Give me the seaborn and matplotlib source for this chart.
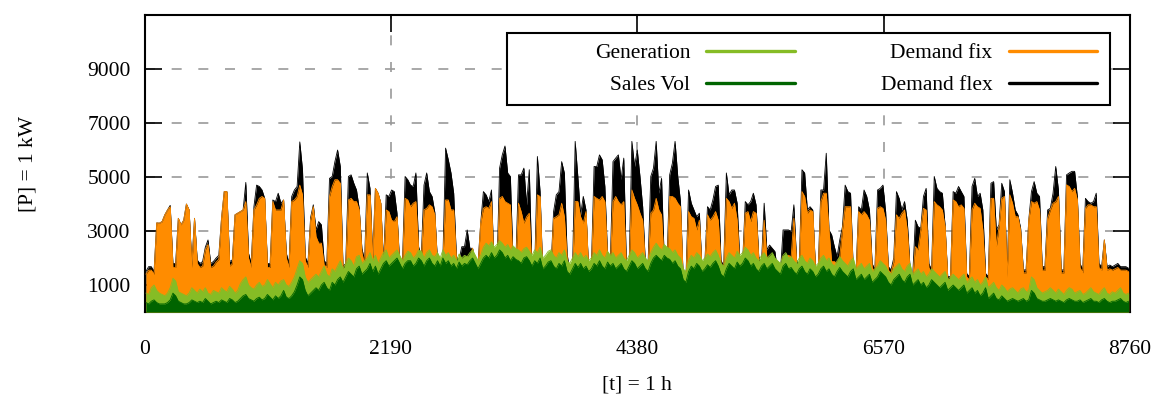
import numpy as np
import pandas as pd
import matplotlib
matplotlib.use("Agg")
import matplotlib.pyplot as plt
from matplotlib.patches import Rectangle
import seaborn as sns

# daily peak values (kW), one value per day of the year
demand_flex = [
    1500, 1680, 1680, 1500, 3300, 3290, 3350,
    3600, 3780, 3950, 1800, 1800, 3470, 3230,
    3400, 4000, 3780, 1800, 3470, 1930, 1800,
    1870, 2400, 2670, 1800, 1870, 2000, 2100,
    3470, 4460, 4460, 1870, 1930, 3600, 3660,
    3720, 3780, 4800, 2180, 1800, 3900, 4700,
    4650, 4520, 4210, 1800, 1800, 4150, 4090,
    4400, 4030, 4150, 2180, 1800, 4280, 4520,
    4650, 6300, 5270, 2050, 1800, 3500, 3970,
    3040, 3350, 3230, 1900, 1800, 4950, 5020,
    5570, 6000, 5390, 1680, 1800, 5020, 5080,
    4770, 4520, 3840, 2360, 1900, 5150, 4580,
    2050, 4580, 4400, 4030, 1800, 4340, 4280,
    4520, 4460, 3660, 1800, 1800, 5020, 4900,
    4700, 4650, 5150, 2420, 2050, 4700, 5150,
    4460, 4280, 3700, 1870, 1930, 2000, 6070,
    5640, 5150, 4400, 2050, 1930, 2420, 2420,
    3040, 2360, 2360, 1800, 1800, 3290, 4460,
    4340, 4090, 4520, 1500, 1500, 5330, 5820,
    6150, 5150, 5020, 1800, 1800, 5080, 5080,
    5330, 3970, 5270, 1560, 1560, 5760, 4460,
    1430, 1430, 1500, 1550, 3720, 4340, 4460,
    5570, 5150, 2180, 1430, 1500, 6320, 5000,
    3600, 4280, 3780, 1560, 1680, 5390, 5390,
    5820, 5640, 4650, 2050, 1800, 5570, 5700,
    5820, 4900, 5700, 1560, 1800, 6320, 5390,
    6000, 5020, 3900, 1800, 1800, 5020, 5330,
    6320, 4400, 4950, 1900, 1800, 5080, 5510,
    6320, 5020, 4090, 1310, 1190, 4520, 4030,
    3780, 3530, 3660, 1560, 1800, 3900, 3780,
    4150, 4650, 4700, 1930, 1680, 5150, 4340,
    4520, 4520, 4030, 1800, 1800, 4090, 3970,
    4090, 4400, 3970, 2050, 1800, 4030, 2300,
    2480, 2360, 2240, 1430, 1430, 3040, 3040,
    3040, 2980, 3970, 1930, 1740, 5270, 5150,
    3780, 3900, 3780, 1680, 1560, 4520, 4520,
    5880, 3040, 2860, 2420, 2050, 2670, 3160,
    4700, 4460, 4400, 1560, 1430, 3900, 3780,
    4520, 4280, 3780, 1800, 1560, 4520, 4580,
    4700, 3720, 1680, 1560, 2000, 4460, 4210,
    3780, 4090, 3400, 1680, 1310, 3400, 3160,
    3100, 4280, 4580, 1800, 1560, 5020, 4580,
    4460, 4400, 3230, 1310, 1310, 4460, 4400,
    4650, 4460, 4280, 1430, 1310, 4650, 4950,
    4280, 4400, 3780, 1430, 1310, 4770, 4830,
    3040, 3230, 4770, 4460, 1430, 4900, 4400,
    3780, 3600, 3100, 1560, 1560, 3400, 4460,
    4830, 4400, 4280, 1680, 1680, 3780, 3840,
    4400, 5390, 4520, 1560, 1560, 5080, 5150,
    5210, 5210, 4280, 1800, 1560, 4210, 4090,
    4030, 4090, 4400, 1800, 1680, 2670, 1680,
    1740, 1680, 1740, 1800, 1680, 1680, 1680,
    1620,
]

demand_fix = [
    1400, 1550, 1550, 1400, 3300, 3290, 3350,
    3600, 3780, 3900, 1650, 1650, 3470, 3230,
    3400, 4000, 3780, 1650, 3470, 1800, 1650,
    1700, 2300, 2500, 1650, 1700, 1850, 1950,
    3470, 4460, 4460, 1700, 1800, 3600, 3660,
    3720, 3780, 4090, 2000, 1650, 3780, 3970,
    4210, 4280, 4210, 1650, 1650, 4090, 3780,
    3780, 3780, 4150, 2000, 1650, 4090, 4150,
    4280, 4700, 4340, 1900, 1650, 3400, 3900,
    2800, 2550, 2550, 1750, 1650, 4280, 4650,
    4900, 4900, 4770, 1550, 1650, 4150, 4210,
    4090, 4090, 3780, 2200, 1750, 4340, 4340,
    1900, 4580, 4400, 4030, 1650, 3780, 3720,
    3400, 3350, 3530, 1650, 1650, 4210, 4150,
    3900, 4030, 4090, 2300, 1900, 3780, 3840,
    3970, 3900, 3600, 1700, 1800, 1850, 4150,
    4150, 3780, 3780, 1900, 1800, 1930, 2000,
    2050, 2000, 2360, 1650, 1650, 3290, 3840,
    3900, 3840, 4090, 1400, 1400, 4210, 4280,
    4090, 4030, 3970, 1650, 1650, 4030, 3720,
    3290, 3530, 3660, 1450, 1450, 4340, 4280,
    1300, 1300, 1350, 1400, 3470, 3530, 3600,
    4030, 3530, 2000, 1300, 1350, 4090, 4090,
    3530, 3290, 3720, 1450, 1550, 4280, 4210,
    4150, 4280, 4090, 1900, 1650, 4090, 4280,
    4090, 3970, 4090, 1450, 1650, 4520, 4210,
    3970, 3660, 3400, 1650, 1650, 3660, 3780,
    4210, 3780, 3600, 1750, 1650, 4280, 4280,
    4210, 4030, 3900, 1200, 1100, 3720, 3530,
    3470, 3040, 3400, 1450, 1650, 3600, 3400,
    3530, 3720, 3400, 1800, 1550, 4210, 4090,
    3840, 4030, 3400, 1650, 1650, 3660, 3720,
    3350, 3720, 3660, 1900, 1650, 3400, 2000,
    2000, 1930, 1870, 1300, 1300, 2050, 2100,
    2100, 2050, 3470, 1800, 1600, 4460, 4280,
    3660, 3780, 3720, 1550, 1450, 4090, 4400,
    4400, 3040, 1870, 1870, 1800, 2050, 3040,
    3900, 3900, 3900, 1450, 1300, 3720, 3600,
    3720, 3600, 3400, 1650, 1450, 3840, 3900,
    3840, 3400, 1550, 1450, 1850, 3600, 3470,
    3660, 3780, 3040, 1550, 1200, 2420, 2300,
    3040, 3840, 3780, 1650, 1450, 4090, 3970,
    3900, 3780, 3160, 1200, 1200, 4150, 4090,
    3900, 3970, 3840, 1300, 1200, 3780, 4030,
    3900, 3840, 3040, 1300, 1200, 4210, 4210,
    2420, 3160, 4210, 4280, 1300, 4340, 4030,
    3530, 3530, 3000, 1450, 1450, 3400, 4090,
    4030, 4090, 3780, 1550, 1550, 3470, 3780,
    4030, 4090, 4280, 1450, 1450, 4710, 4650,
    4460, 4580, 4150, 1650, 1450, 3840, 3970,
    3970, 3900, 3900, 1650, 1550, 2670, 1550,
    1600, 1550, 1600, 1650, 1550, 1550, 1550,
    1500,
]

generation = [
    700, 650, 900, 1000, 800, 700, 650,
    600, 700, 900, 1250, 1150, 750, 700,
    650, 600, 700, 900, 800, 700, 850,
    750, 900, 700, 650, 800, 750, 700,
    900, 800, 750, 950, 850, 700, 800,
    1050, 1200, 1300, 1000, 900, 850, 1000,
    1100, 950, 1000, 1200, 1050, 900, 1100,
    1000, 1150, 1200, 1000, 950, 1100, 1300,
    1600, 1900, 1800, 1300, 1100, 1200, 1300,
    1400, 1300, 1500, 1700, 1400, 1300, 1600,
    1500, 1700, 1900, 1600, 1800, 2000, 1900,
    1700, 2050, 2100, 1800, 1900, 2000, 2200,
    1900, 2100, 1800, 2000, 2200, 2300, 2000,
    2100, 2200, 2300, 2100, 1900, 2100, 2250,
    2200, 2000, 2100, 2300, 2250, 2000, 2200,
    2300, 2100, 2050, 2200, 2000, 2300, 2100,
    2200, 2000, 2100, 1900, 2150, 2000, 2100,
    2050, 2200, 2300, 2100, 1900, 2100, 2400,
    2550, 2450, 2600, 2400, 2500, 2650, 2550,
    2400, 2500, 2300, 2450, 2350, 2300, 2200,
    2350, 2400, 2250, 2100, 2300, 2200, 2400,
    2000, 2100, 2250, 2300, 2100, 2000, 2200,
    2100, 2300, 1900, 1800, 2000, 2200, 2050,
    2200, 2000, 2100, 1900, 2000, 2200, 2100,
    2300, 2100, 2000, 2250, 2100, 2200, 2000,
    2100, 2200, 2000, 1900, 2100, 2300, 2200,
    2000, 2100, 2200, 2000, 1900, 2200, 2400,
    2550, 2400, 2300, 2500, 2400, 2350, 2200,
    2300, 2100, 2000, 1600, 1500, 1900, 2100,
    2000, 2200, 2100, 1900, 2000, 2150, 2050,
    2200, 2300, 2100, 1800, 1700, 2000, 2200,
    2100, 2000, 2250, 2100, 2200, 2400, 2300,
    2100, 2200, 2000, 1900, 2100, 2200, 2000,
    2100, 2200, 2000, 1900, 1800, 2100, 2200,
    2000, 2050, 1900, 1800, 2000, 2100, 1900,
    1800, 2000, 1900, 1700, 1800, 2000, 2100,
    1900, 2000, 1800, 1700, 1900, 2050, 1900,
    1800, 1700, 1900, 2000, 1600, 1700, 1800,
    1600, 1700, 1800, 1500, 1600, 1700, 1900,
    1800, 1700, 1500, 1400, 1600, 1700, 1800,
    1600, 1500, 1700, 1800, 1400, 1500, 1600,
    1400, 1500, 1300, 1400, 1600, 1500, 1400,
    1300, 1400, 1500, 1200, 1300, 1400, 1300,
    1200, 1300, 1400, 1100, 1200, 1300, 1100,
    1200, 1000, 1100, 1300, 900, 1000, 1100,
    900, 800, 1000, 900, 750, 850, 900,
    800, 700, 850, 900, 750, 800, 1300,
    1200, 900, 800, 700, 750, 800, 900,
    800, 700, 850, 750, 650, 800, 900,
    850, 700, 750, 800, 650, 700, 800,
    900, 750, 700, 650, 800, 900, 700,
    650, 750, 700, 800, 900, 700, 650,
    700,
]

sales_vol = [
    350, 300, 400, 450, 350, 300, 300,
    300, 350, 450, 700, 600, 400, 350,
    300, 300, 350, 450, 400, 350, 400,
    350, 500, 400, 300, 350, 400, 350,
    450, 400, 350, 500, 450, 350, 400,
    500, 600, 650, 500, 450, 400, 500,
    550, 450, 500, 650, 550, 450, 600,
    500, 600, 800, 550, 500, 600, 750,
    1000, 1300, 1200, 800, 600, 700, 800,
    900, 800, 1000, 1100, 900, 800, 1100,
    1000, 1200, 1300, 1100, 1300, 1500, 1400,
    1300, 1600, 1700, 1400, 1500, 1600, 1800,
    1500, 1700, 1400, 1600, 1800, 1900, 1700,
    1800, 1900, 2000, 1800, 1600, 1800, 1900,
    1900, 1700, 1800, 2000, 1900, 1700, 1900,
    2000, 1800, 1700, 1900, 1700, 2000, 1800,
    1900, 1700, 1800, 1600, 1850, 1700, 1800,
    1750, 1900, 2000, 1800, 1600, 1800, 2000,
    2100, 2000, 2200, 2000, 2100, 2300, 2200,
    2000, 2100, 1900, 2050, 1950, 1900, 1800,
    2000, 2050, 1900, 1700, 1900, 1800, 2000,
    1600, 1700, 1850, 1900, 1700, 1600, 1800,
    1700, 1900, 1500, 1400, 1600, 1800, 1650,
    1800, 1600, 1700, 1500, 1600, 1800, 1700,
    1900, 1700, 1600, 1850, 1700, 1800, 1600,
    1700, 1800, 1600, 1500, 1700, 1900, 1800,
    1600, 1700, 1800, 1600, 1500, 1800, 2000,
    2100, 2000, 1900, 2100, 2000, 1950, 1800,
    1900, 1700, 1600, 1200, 1100, 1500, 1700,
    1600, 1800, 1700, 1500, 1600, 1750, 1650,
    1800, 1900, 1700, 1400, 1300, 1600, 1800,
    1700, 1600, 1850, 1700, 1800, 2000, 1900,
    1700, 1800, 1600, 1500, 1700, 1800, 1600,
    1700, 1800, 1600, 1500, 1400, 1700, 1800,
    1600, 1650, 1500, 1400, 1600, 1700, 1500,
    1400, 1600, 1500, 1300, 1400, 1600, 1700,
    1500, 1600, 1400, 1300, 1500, 1650, 1500,
    1400, 1300, 1500, 1600, 1200, 1300, 1400,
    1200, 1300, 1400, 1100, 1200, 1300, 1500,
    1400, 1300, 1100, 1000, 1200, 1300, 1400,
    1200, 1100, 1300, 1400, 1000, 1100, 1200,
    1000, 1100, 900, 1000, 1200, 1100, 1000,
    900, 1000, 1100, 800, 900, 1000, 900,
    800, 900, 1000, 700, 800, 900, 700,
    800, 600, 700, 900, 500, 600, 700,
    500, 450, 600, 500, 400, 450, 500,
    450, 400, 450, 500, 400, 450, 800,
    700, 500, 450, 400, 400, 450, 500,
    450, 400, 450, 400, 350, 450, 500,
    450, 400, 400, 450, 350, 400, 450,
    500, 400, 400, 350, 450, 500, 400,
    350, 400, 400, 450, 500, 400, 350,
    400,
]

x_ticks = [0, 2190, 4380, 6570, 8760]
y_ticks = [1000, 3000, 5000, 7000, 9000]

# drawn back to front: total demand first, sales volume last
series = [
    ("Demand flex", demand_flex, "#000000"),
    ("Demand fix", demand_fix, "#ff8c00"),
    ("Generation", generation, "#86bc25"),
    ("Sales Vol", sales_vol, "#006400"),
]

sns.set_theme(style="ticks")
plt.rcParams["font.family"] = ["Liberation Serif", "DejaVu Serif"]
plt.rcParams["text.color"] = "black"
plt.rcParams["axes.labelcolor"] = "black"

fig = plt.figure(figsize=(11.63, 3.96), dpi=100)
ax = fig.add_axes([0.1243, 0.2121, 0.8473, 0.75])

hours = np.arange(len(demand_flex)) * 24 + 12
for i, (name, vals, col) in enumerate(series):
    df = pd.DataFrame({"hour": hours, "kW": vals})
    ax.fill_between(df["hour"], 0, df["kW"], color=col, lw=0, zorder=2 + i)
    sns.lineplot(data=df, x="hour", y="kW", color=col, lw=0.6, label=name,
                 estimator=None, ax=ax, zorder=2 + i)

ax.set_xlim(0, 8760)
ax.set_ylim(0, 11000)
ax.set_xticks(x_ticks)
ax.set_yticks(y_ticks)
ax.set_xlabel("[t] = 1 h", fontsize=15.5, labelpad=12)
ax.set_ylabel("[P] = 1 kW", fontsize=15.5, labelpad=36)

ax.tick_params(direction="in", length=12.5, width=1.2, top=True, right=True,
               labelsize=15.5, colors="black")
ax.tick_params(axis="x", pad=20)
ax.tick_params(axis="y", pad=10)
for sp in ax.spines.values():
    sp.set_linewidth(1.5)
    sp.set_color("black")

ax.set_axisbelow(True)
ax.grid(True, color="#999999", lw=1.2, linestyle=(0, (6, 10)))

# legend box like gnuplot: wide frame, labels right aligned before the sample
ax.add_patch(Rectangle((0.368, 0.697), 0.612, 0.242, transform=ax.transAxes,
                       facecolor="white", edgecolor="black", lw=1.5, zorder=8))
handles, labels = ax.get_legend_handles_labels()
order = [2, 3, 1, 0]
leg = ax.legend([handles[k] for k in order], [labels[k] for k in order],
                ncol=2, loc="upper right", bbox_to_anchor=(0.9665, 0.905),
                frameon=False, markerfirst=False, fontsize=15.5,
                handlelength=4.1, handletextpad=0.75, columnspacing=4.0,
                labelspacing=0.55, borderpad=0, borderaxespad=0)
leg.set_zorder(9)
for h in leg.get_lines():
    h.set_linewidth(2.4)

fig.savefig("out.png", dpi=100)
